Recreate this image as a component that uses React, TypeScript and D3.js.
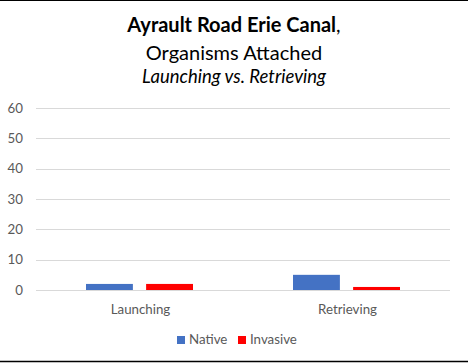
import React from "react";
import * as d3 from "d3";

const categories = ["Launching", "Retrieving"];
const seriesNames = ["Native", "Invasive"];
const nativeValues = [2, 5];
const invasiveValues = [2, 1];
const yTicks = [0, 10, 20, 30, 40, 50, 60];

const colors: Record<string, string> = { Native: "#4472C4", Invasive: "#FF0000" };

const width = 468;
const height = 363;
const margin = { top: 108, right: 18, bottom: 73, left: 36 };
const font = "Lato, Carlito, Calibri, sans-serif";

const App: React.FC = () => {
  const x0 = d3
    .scaleBand()
    .domain(categories)
    .range([margin.left, width - margin.right])
    .padding(0);

  // inner band for the two series inside each category
  const x1 = d3
    .scaleBand()
    .domain(seriesNames)
    .range([50, 157])
    .paddingInner(0.22);

  const y = d3
    .scaleLinear()
    .domain([0, 60])
    .range([height - margin.bottom, margin.top]);

  const values: Record<string, number[]> = {
    Native: nativeValues,
    Invasive: invasiveValues,
  };

  return (
    <svg
      width={width}
      height={height}
      style={{ position: "absolute", left: 0, top: 0, background: "#fff" }}
      fontFamily={font}
    >
      <rect x={0} y={0} width={width} height={height} fill="#fff" />
      <line x1={0} x2={width} y1={0.5} y2={0.5} stroke="#000" />
      <line x1={0} x2={width} y1={361.5} y2={361.5} stroke="#000" strokeWidth={1.5} />

      {/* title */}
      <text x={width / 2} y={32} textAnchor="middle" fontSize={20} fill="#000">
        <tspan fontWeight="bold">Ayrault Road Erie Canal</tspan>
        <tspan>,</tspan>
      </text>
      <text x={width / 2} y={60} textAnchor="middle" fontSize={20} fill="#000">
        Organisms Attached
      </text>
      <text x={width / 2} y={83} textAnchor="middle" fontSize={18.5} fontStyle="italic" fill="#000">
        Launching vs. Retrieving
      </text>

      {/* gridlines + y labels */}
      {yTicks.map((t) => (
        <g key={t}>
          <line
            x1={margin.left}
            x2={width - margin.right}
            y1={Math.round(y(t)) + 0.5}
            y2={Math.round(y(t)) + 0.5}
            stroke="#d9d9d9"
          />
          <text
            x={23}
            y={y(t)}
            dy="0.35em"
            textAnchor="end"
            fontSize={13.3}
            fill="#595959"
          >
            {t}
          </text>
        </g>
      ))}

      {/* bars */}
      {categories.map((c, i) => (
        <g key={c} transform={`translate(${x0(c)},0)`}>
          {seriesNames.map((s) => (
            <rect
              key={s}
              x={x1(s)}
              y={y(values[s][i])}
              width={x1.bandwidth()}
              height={y(0) - y(values[s][i])}
              fill={colors[s]}
            />
          ))}
        </g>
      ))}

      {/* category labels */}
      {categories.map((c) => (
        <text
          key={c}
          x={(x0(c) ?? 0) + x0.bandwidth() / 2 + 1}
          y={314}
          textAnchor="middle"
          fontSize={13.3}
          fill="#595959"
        >
          {c}
        </text>
      ))}

      {/* legend */}
      {seriesNames.map((s, i) => {
        const lx = i === 0 ? 177 : 238;
        return (
          <g key={s}>
            <rect x={lx} y={336} width={8} height={8} fill={colors[s]} />
            <text x={lx + 12} y={344} fontSize={13.3} fill="#595959">
              {s}
            </text>
          </g>
        );
      })}
    </svg>
  );
};

export default App;
